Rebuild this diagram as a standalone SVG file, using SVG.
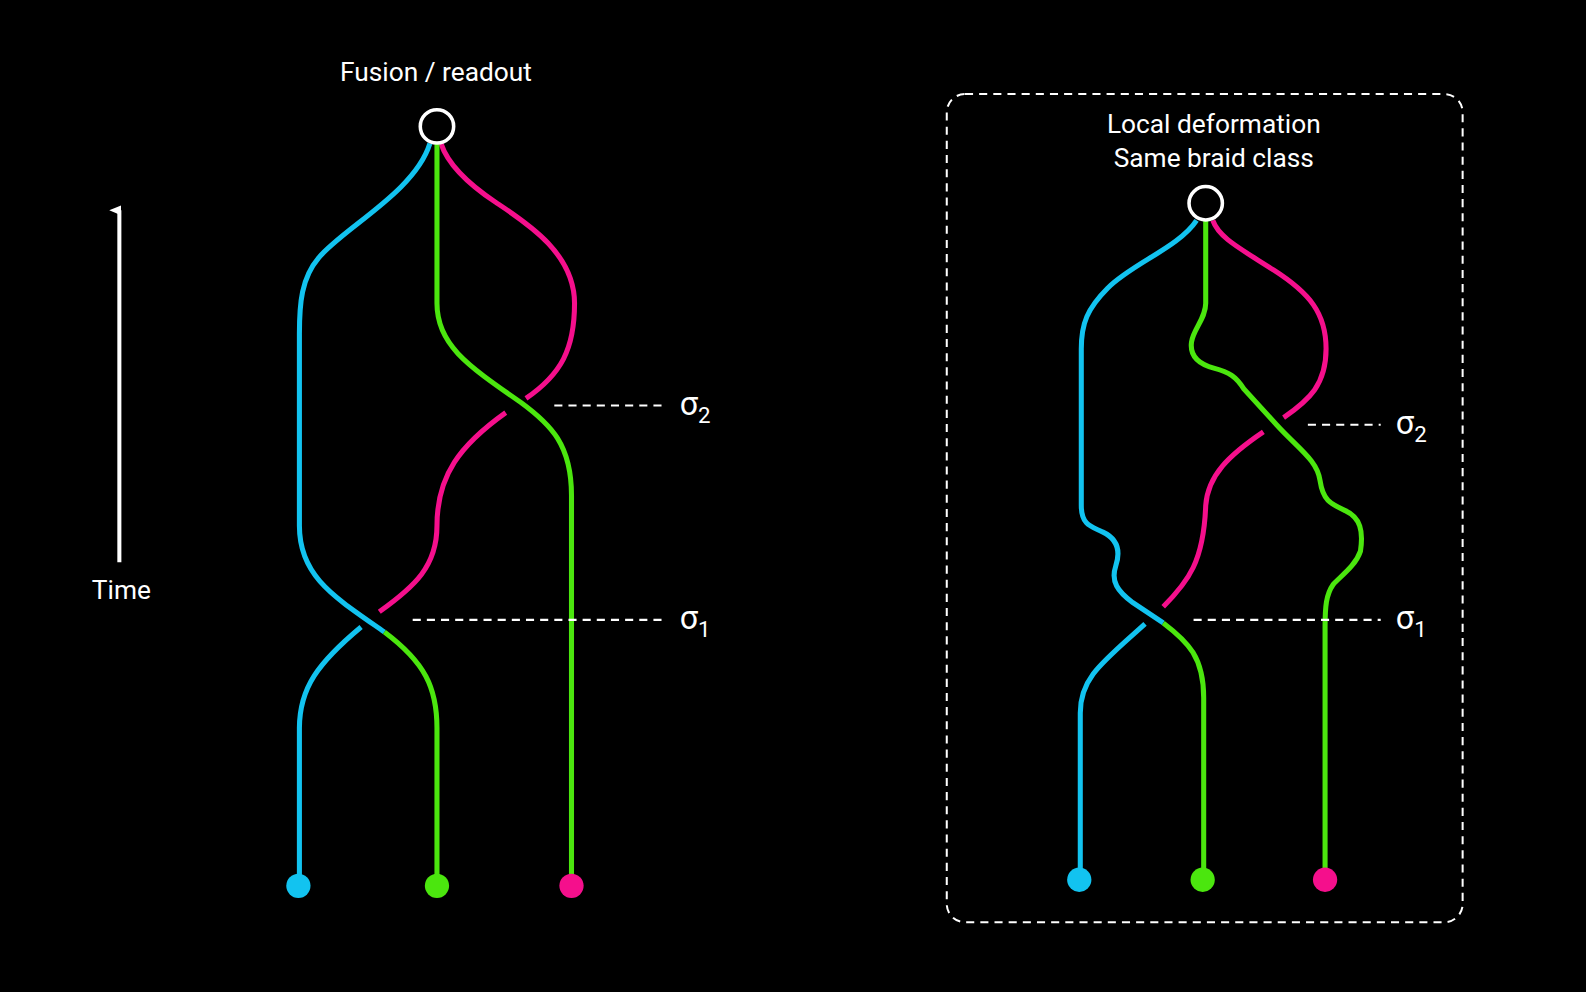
<svg xmlns="http://www.w3.org/2000/svg" width="1586" height="992" viewBox="0 0 1586 992">
<style>
.s{fill:none;stroke-width:5;stroke-linecap:butt}
.b{stroke:#12c3f0}.g{stroke:#4be60e}.p{stroke:#f50f8c}
.d{fill:none;stroke:#fff;stroke-width:2;stroke-dasharray:8 6}
.t{fill:#fff;font-family:Roboto,"Liberation Sans",sans-serif}
.ring{fill:#000;stroke:#fff;stroke-width:3.5}
</style>
<defs><marker id="ah" markerWidth="10" markerHeight="12" refX="5" refY="10" orient="auto" markerUnits="userSpaceOnUse" viewBox="0 0 10 12"><path d="M0,12 L5,0 L10,12 Z" fill="#fff"/></marker></defs>
<rect width="1586" height="992" fill="#000"/>
<g transform="scale(1.0115 1.0112)">
<g id="time"><line x1="118" y1="556" x2="118" y2="208" stroke="#fff" stroke-width="4" marker-end="url(#ah)"/><text class="t" x="120" y="592" font-size="26" text-anchor="middle">Time</text></g>
<g id="connectors">
<path class="s b" d="M425,142 C410,190 340,225 315,255 C298,275 296,300 296,330 L296,520 C296,570 330,590 380,625"/>
<path class="s g" d="M380,625 C420,655 432,680 432,720 L432,876"/>
<path class="s b" d="M296,876 L296,720 C296,680 315,655 357,620"/>
<path class="s p" d="M375,605 C410,580 432,560 432,520 C432,470 455,440 500,408"/>
<path class="s p" d="M520,394 C555,370 568,345 568,300 C568,250 520,220 490,200 C460,180 442,160 436,142"/>
<path class="s g" d="M432,142 L432,300 C432,340 460,360 515,398 C545,420 565,440 565,490 L565,876"/>
<path class="s b" d="M1183,218 C1165,245 1120,260 1095,285 C1075,305 1069,320 1069,345 L1069,500 C1069,520 1080,521 1090,526 C1105,533 1108,545 1103,560 C1098,575 1105,585 1120,596 L1150,616"/>
<path class="s g" d="M1150,616 C1175,635 1190,650 1190,690 L1190,870"/>
<path class="s b" d="M1068,870 L1068,705 C1068,670 1090,655 1132,617"/>
<path class="s p" d="M1150,600 C1175,575 1190,555 1192,500 C1194,470 1215,450 1249,427"/>
<path class="s p" d="M1269,413 C1295,395 1311,380 1311,345 C1311,310 1295,290 1259,267 C1225,245 1205,235 1199,218"/>
<path class="s g" d="M1192,218 L1192,300 C1192,315 1180,325 1178,338 C1176,352 1185,360 1200,364 C1215,368 1222,372 1230,385 L1262,420 C1285,445 1302,455 1305,475 C1308,495 1315,498 1330,505 C1345,512 1348,525 1345,545 C1340,560 1325,570 1318,578 C1311,588 1310,600 1310,620 L1310,870"/>
<line class="d" x1="548" y1="401" x2="655" y2="401"/>
<line class="d" x1="408" y1="613" x2="655" y2="613"/>
<line class="d" x1="1293" y1="420" x2="1365" y2="420"/>
<line class="d" x1="1180" y1="613" x2="1365" y2="613"/>
</g>
<g id="left-top"><text class="t" x="431" y="80" font-size="26" text-anchor="middle">Fusion / readout</text><circle class="ring" cx="432" cy="125" r="16.5"/></g>
<g id="left-dots"><circle cx="295" cy="876" r="12" fill="#12c3f0"/><circle cx="432" cy="876" r="12" fill="#4be60e"/><circle cx="565" cy="876" r="12" fill="#f50f8c"/></g>
<g id="left-labels"><text class="t" x="672" y="410" font-size="32">σ<tspan font-size="22" dy="8">2</tspan></text><text class="t" x="672" y="622" font-size="32">σ<tspan font-size="22" dy="8">1</tspan></text></g>
<g id="box"><rect x="936" y="93" width="510" height="819" rx="18" class="d"/>
<text class="t" x="1200" y="132" font-size="26" text-anchor="middle">Local deformation</text>
<text class="t" x="1200" y="165" font-size="26" text-anchor="middle">Same braid class</text>
<circle class="ring" cx="1192" cy="201" r="16.5"/></g>
<g id="right-dots"><circle cx="1067" cy="870" r="12" fill="#12c3f0"/><circle cx="1189" cy="870" r="12" fill="#4be60e"/><circle cx="1310" cy="870" r="12" fill="#f50f8c"/></g>
<g id="right-labels"><text class="t" x="1380" y="429" font-size="32">σ<tspan font-size="22" dy="8">2</tspan></text><text class="t" x="1380" y="622" font-size="32">σ<tspan font-size="22" dy="8">1</tspan></text></g>
</g>
</svg>
